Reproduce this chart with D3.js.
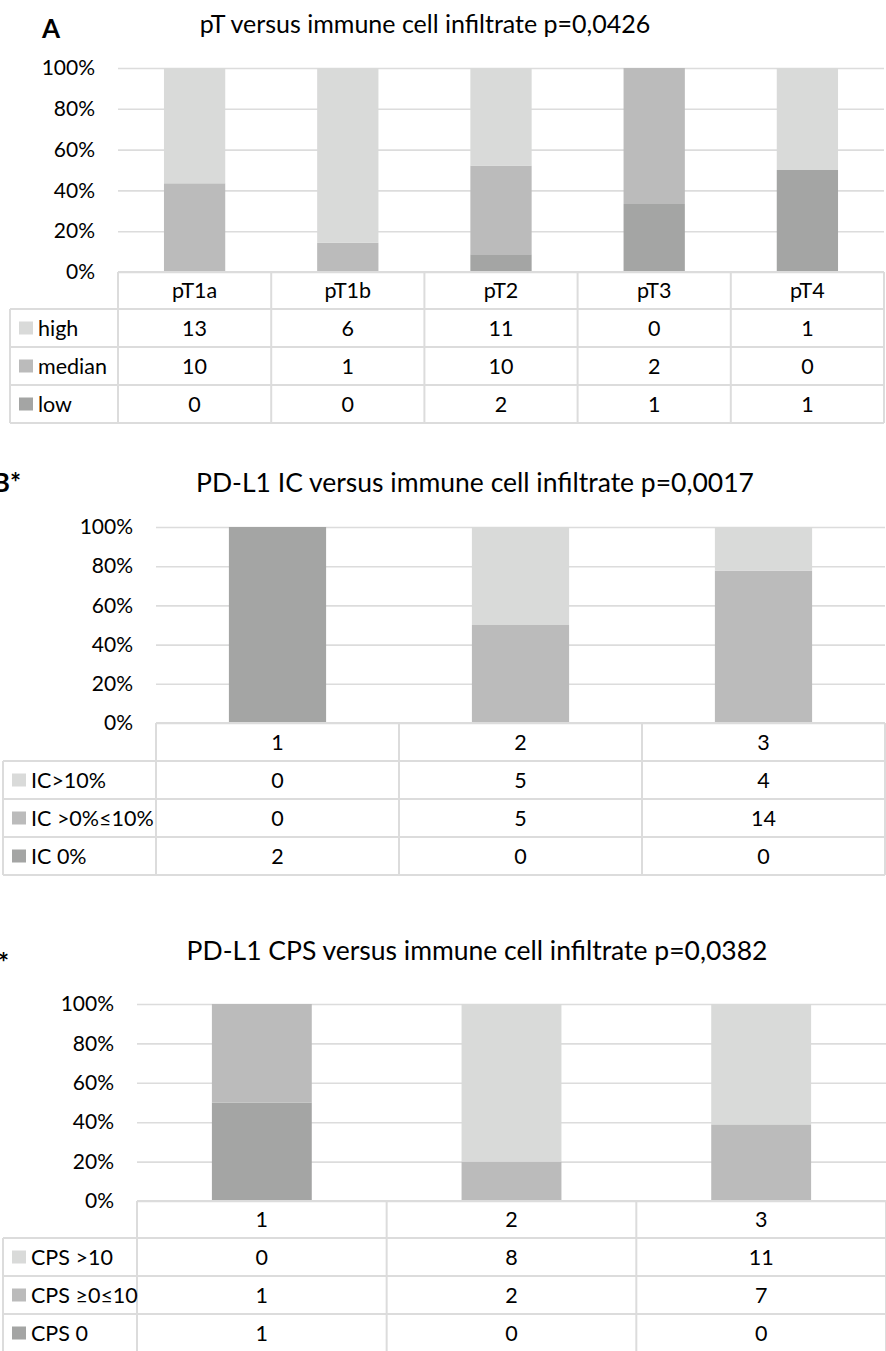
<!DOCTYPE html>
<html>
<head>
<meta charset="utf-8">
<script src="https://cdn.jsdelivr.net/npm/d3@7"></script>
<style>
  html, body { margin: 0; padding: 0; background: #fff; }
  svg { display: block; }
  text { font-family: Lato, "Open Sans", sans-serif; fill: #000; }
</style>
</head>
<body>
<svg id="chart" width="886" height="1351"></svg>
<script>
// ---- data: pT stage vs immune cell infiltrate ----
const pTCategories = ["pT1a", "pT1b", "pT2", "pT3", "pT4"];
const pTHigh   = [13, 6, 11, 0, 1];
const pTMedian = [10, 1, 10, 2, 0];
const pTLow    = [0, 0, 2, 1, 1];
const pTSeriesNames = ["high", "median", "low"];

// ---- data: PD-L1 IC vs immune cell infiltrate ----
const icCategories = ["1", "2", "3"];
const icAbove10 = [0, 5, 4];
const icUpTo10  = [0, 5, 14];
const icZero    = [2, 0, 0];
const icSeriesNames = ["IC>10%", "IC >0%\u226410%", "IC 0%"];

// ---- data: PD-L1 CPS vs immune cell infiltrate ----
const cpsCategories = ["1", "2", "3"];
const cpsAbove10 = [0, 8, 11];
const cpsUpTo10  = [1, 2, 7];
const cpsZero    = [1, 0, 0];
const cpsSeriesNames = ["CPS >10", "CPS \u22650\u226410", "CPS 0"];

const percentTicks = [0, 0.2, 0.4, 0.6, 0.8, 1];

// stacked segment colours, top series first
const shades = ["#d9dad9", "#bbbbbb", "#a4a5a4"];
const gridColor = "#dcdcdc";

const svg = d3.select("#chart");

function drawPanel(cfg) {
  const g = svg.append("g");
  const cats = cfg.categories;
  const seriesVals = cfg.series;       // top series first
  const names = cfg.names;

  // panel letter and title
  g.append("text")
    .attr("x", cfg.labelX).attr("y", cfg.labelY)
    .attr("text-anchor", "end")
    .style("font-weight", "bold").style("font-size", "26px")
    .text(cfg.label);
  g.append("text")
    .attr("x", cfg.titleX).attr("y", cfg.titleY)
    .attr("text-anchor", "middle")
    .style("font-size", cfg.titleSize + "px")
    .text(cfg.title);

  const x = d3.scaleBand().domain(cats)
    .range([cfg.left, cfg.right])
    .paddingInner(0.6).paddingOuter(0.3);
  const y = d3.scaleLinear().domain([0, 1]).range([cfg.bottom, cfg.top]);

  // gridlines + tick labels
  const axis = d3.axisLeft(y).tickValues(percentTicks)
    .tickFormat(d3.format(".0%"))
    .tickSize(-(cfg.right - cfg.left)).tickPadding(23);
  const ax = g.append("g").attr("transform", `translate(${cfg.left},0)`).call(axis);
  ax.select(".domain").remove();
  ax.selectAll(".tick line").attr("stroke", gridColor).attr("stroke-width", 1.6);
  ax.selectAll(".tick text").style("font-size", "21px").attr("fill", "#000")
    .style("font-family", 'Lato, "Open Sans", sans-serif');

  // stacked percentage bars: bottom series first
  const rows = cats.map((c, i) => {
    const r = { cat: c };
    names.forEach((n, k) => { r[n] = seriesVals[k][i]; });
    return r;
  });
  const keys = names.slice().reverse();
  const stacked = d3.stack().keys(keys).offset(d3.stackOffsetExpand)(rows);
  stacked.forEach(layer => {
    const k = names.indexOf(layer.key);
    g.append("g").selectAll("rect").data(layer).join("rect")
      .attr("x", d => x(d.data.cat))
      .attr("width", x.bandwidth())
      .attr("y", d => y(d[1]))
      .attr("height", d => Math.max(0, y(d[0]) - y(d[1])))
      .attr("fill", shades[k]);
  });

  // data table beneath the plot
  const step = x.step();
  const hTop = cfg.bottom;
  const hBot = hTop + cfg.headerH;
  const tBot = hBot + names.length * cfg.rowH;
  const lineAttrs = sel => sel.attr("stroke", gridColor).attr("stroke-width", 2);
  // horizontal rules
  g.append("line").attr("x1", cfg.left).attr("x2", cfg.right)
    .attr("y1", hTop).attr("y2", hTop).call(lineAttrs);
  for (let r = 0; r <= names.length; r++) {
    const yy = hBot + r * cfg.rowH;
    g.append("line").attr("x1", cfg.tableLeft).attr("x2", cfg.right)
      .attr("y1", yy).attr("y2", yy).call(lineAttrs);
  }
  // vertical rules
  g.append("line").attr("x1", cfg.tableLeft).attr("x2", cfg.tableLeft)
    .attr("y1", hBot).attr("y2", tBot).call(lineAttrs);
  for (let c = 0; c <= cats.length; c++) {
    const xx = cfg.left + c * step;
    g.append("line").attr("x1", xx).attr("x2", xx)
      .attr("y1", hTop).attr("y2", tBot).call(lineAttrs);
  }
  // header labels
  g.selectAll(null).data(cats).join("text")
    .attr("x", d => x(d) + x.bandwidth() / 2)
    .attr("y", (hTop + hBot) / 2)
    .attr("dy", "0.35em").attr("text-anchor", "middle")
    .style("font-size", "21.5px").text(d => d);
  // series rows
  names.forEach((n, k) => {
    const cy = hBot + k * cfg.rowH + cfg.rowH / 2;
    g.append("rect")
      .attr("x", cfg.tableLeft + 9).attr("y", cy - 6.5)
      .attr("width", 14).attr("height", 13).attr("fill", shades[k]);
    g.append("text")
      .attr("x", cfg.tableLeft + 28).attr("y", cy).attr("dy", "0.35em")
      .style("font-size", "21.5px").text(n);
    g.selectAll(null).data(seriesVals[k]).join("text")
      .attr("x", (d, i) => x(cats[i]) + x.bandwidth() / 2)
      .attr("y", cy).attr("dy", "0.35em").attr("text-anchor", "middle")
      .style("font-size", "21.5px").text(d => d);
  });
}

drawPanel({
  label: "A", labelX: 60, labelY: 38,
  title: "pT versus immune cell infiltrate p=0,0426", titleX: 425, titleY: 33, titleSize: 25,
  categories: pTCategories, series: [pTHigh, pTMedian, pTLow], names: pTSeriesNames,
  left: 118, right: 884, top: 68, bottom: 272, tableLeft: 10, headerH: 37, rowH: 38
});

drawPanel({
  label: "B*", labelX: 21, labelY: 492,
  title: "PD-L1 IC versus immune cell infiltrate p=0,0017", titleX: 475, titleY: 492, titleSize: 26.5,
  categories: icCategories, series: [icAbove10, icUpTo10, icZero], names: icSeriesNames,
  left: 156, right: 885, top: 527, bottom: 723, tableLeft: 3, headerH: 38, rowH: 38
});

drawPanel({
  label: "C*", labelX: 9, labelY: 972,
  title: "PD-L1 CPS versus immune cell infiltrate p=0,0382", titleX: 477, titleY: 960, titleSize: 26.5,
  categories: cpsCategories, series: [cpsAbove10, cpsUpTo10, cpsZero], names: cpsSeriesNames,
  left: 137, right: 886, top: 1004, bottom: 1201, tableLeft: 3, headerH: 37, rowH: 38
});
</script>
</body>
</html>
